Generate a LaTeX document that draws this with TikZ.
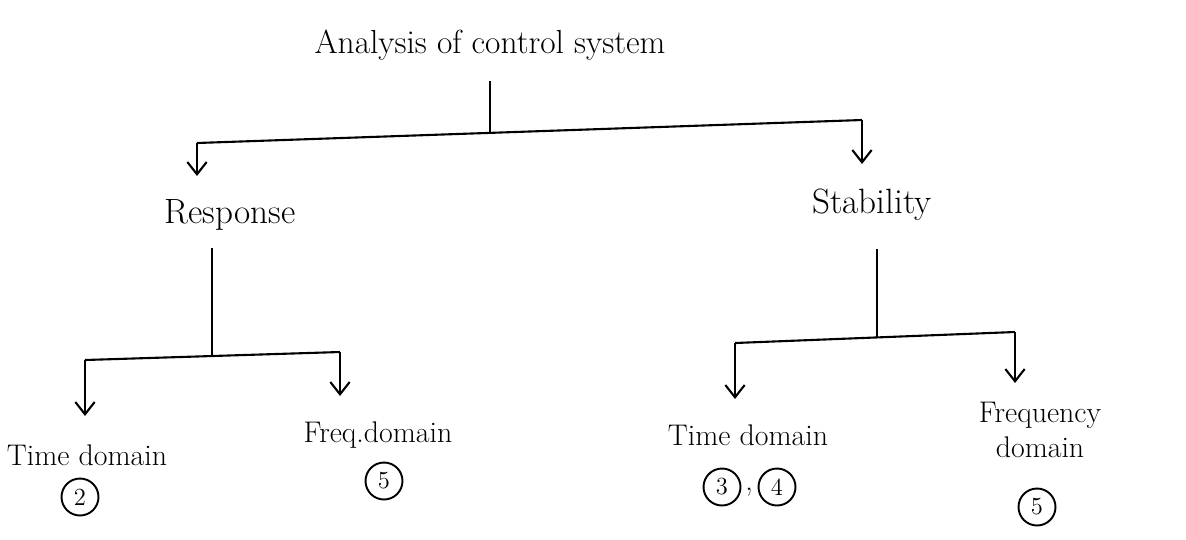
\documentclass[tikz,border=0pt]{standalone}
\usepackage{tikz}
\usetikzlibrary{arrows.meta,positioning}

\begin{document}
\begin{tikzpicture}[x=0.02cm,y=-0.02cm,>={Straight Barb[length=7pt,width=11pt]},line width=1.2pt,
  every node/.style={font=\fontsize{17}{20}\selectfont},
  head/.style={font=\fontsize{20}{24}\selectfont},
  num/.style={circle,draw,line width=1.1pt,minimum size=0.74cm,inner sep=0pt,font=\fontsize{14}{16}\selectfont}]
  \useasboundingbox (0,0) rectangle (1186,539);

  \node [font=\fontsize{19}{22}\selectfont] (title) at (490,45) {Analysis of control system};
  \node [head] (resp) at (230,215) {Response};
  \node [head] (stab) at (872,205) {Stability};

  \node (td1) at (87,455) {Time domain};
  \node [num] (n2) at (80,497) {2};
  \node (fd1) at (378,435) {Freq.domain};
  \node [num] (n5a) at (384,481) {5};

  \node (td2) at (748,435) {Time domain};
  \node [num] (n3) at (722,487) {3};
  \node (comma) at (749,492) {,};
  \node [num] (n4) at (777,487) {4};
  \node [align=center] (fd2) at (1040,430) {Frequency\\domain};
  \node [num] (n5b) at (1037,507) {5};

  % junctions
  \coordinate (j0) at (490,133);
  \coordinate (l0) at (197,143);
  \coordinate (r0) at (862,120);
  \coordinate (j1) at (212,356);
  \coordinate (l1) at (85,360);
  \coordinate (r1) at (340,352);
  \coordinate (j2) at (877,337);
  \coordinate (l2) at (735,343);
  \coordinate (r2) at (1015,332);

  % arrow tips
  \coordinate (l0e) at (197,176);
  \coordinate (r0e) at (862,164);
  \coordinate (l1e) at (85,416);
  \coordinate (r1e) at (340,396);
  \coordinate (l2e) at (735,399);
  \coordinate (r2e) at (1015,383);

  \draw [shorten <=8pt] (title) -- (j0);
  \draw (l0) -- (r0);
  \draw [->] (l0) -- (l0e);
  \draw [->] (r0) -- (r0e);

  \draw [shorten <=6pt] (j1 |- resp.south) -- (j1);
  \draw (l1) -- (r1);
  \draw [->] (l1) -- (l1e);
  \draw [->] (r1) -- (r1e);

  \draw [shorten <=12pt] (j2 |- stab.south) -- (j2);
  \draw (l2) -- (r2);
  \draw [->] (l2) -- (l2e);
  \draw [->] (r2) -- (r2e);

\end{tikzpicture}
\end{document}
